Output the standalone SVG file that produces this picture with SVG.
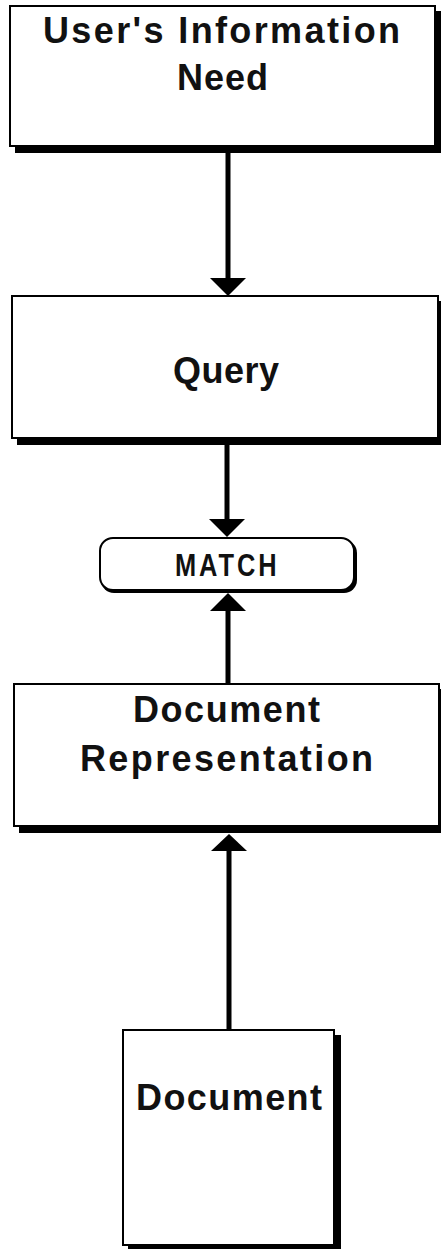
<svg xmlns="http://www.w3.org/2000/svg" width="441" height="1249" viewBox="0 0 441 1249">
  <defs>
    <style>
      .box { fill: #fff; stroke: #000; stroke-width: 2; }
      .shadow { fill: #000; }
      .label { font-family: "Liberation Sans", Arial, sans-serif; font-weight: bold; font-size: 36px; fill: #111; }
      .small { font-size: 31px; }
      .wire { stroke: #000; stroke-width: 5; fill: none; }
      .head { fill: #000; }
    </style>
  </defs>
  <rect width="441" height="1249" fill="#fff"/>

  <!-- User's information need -->
  <g id="need">
    <rect class="shadow" x="15" y="11" width="426" height="142"/>
    <rect class="box" x="10" y="6" width="425" height="140"/>
    <text class="label" x="43" y="43" textLength="357" lengthAdjust="spacing">User's Information</text>
    <text class="label" x="177" y="90" textLength="91" lengthAdjust="spacing">Need</text>
  </g>

  <!-- Query -->
  <g id="query">
    <rect class="shadow" x="17" y="301" width="424" height="144"/>
    <rect class="box" x="12" y="296" width="426" height="142"/>
    <text class="label" x="173" y="383" textLength="106" lengthAdjust="spacing">Query</text>
  </g>

  <!-- Match -->
  <g id="match">
    <rect class="shadow" x="101" y="540" width="256" height="53" rx="13"/>
    <rect class="box" x="100" y="538" width="254" height="52" rx="13"/>
    <text class="label small" transform="translate(175,576) scale(0.82,1)" textLength="124" lengthAdjust="spacing">MATCH</text>
  </g>

  <!-- Document representation -->
  <g id="representation">
    <rect class="shadow" x="19" y="689" width="422" height="144"/>
    <rect class="box" x="14" y="684" width="425" height="142"/>
    <text class="label" x="133" y="722" textLength="187" lengthAdjust="spacing">Document</text>
    <text class="label" x="80" y="771" textLength="293" lengthAdjust="spacing">Representation</text>
  </g>

  <!-- Document -->
  <g id="document">
    <rect class="shadow" x="128" y="1035" width="213" height="214"/>
    <rect class="box" x="123" y="1030" width="211" height="215"/>
    <text class="label" x="136" y="1110" textLength="186" lengthAdjust="spacing">Document</text>
  </g>

  <!-- Connectors -->
  <g id="connectors">
    <line class="wire" x1="228" y1="153" x2="228" y2="280"/>
    <polygon class="head" points="210,278 246,278 228,296"/>

    <line class="wire" x1="227" y1="445" x2="227" y2="522"/>
    <polygon class="head" points="209,519 245,519 227,537"/>

    <line class="wire" x1="228" y1="684" x2="228" y2="608"/>
    <polygon class="head" points="210,611 246,611 228,593"/>

    <line class="wire" x1="229" y1="1030" x2="229" y2="848"/>
    <polygon class="head" points="211,851 247,851 229,834"/>
  </g>
</svg>
